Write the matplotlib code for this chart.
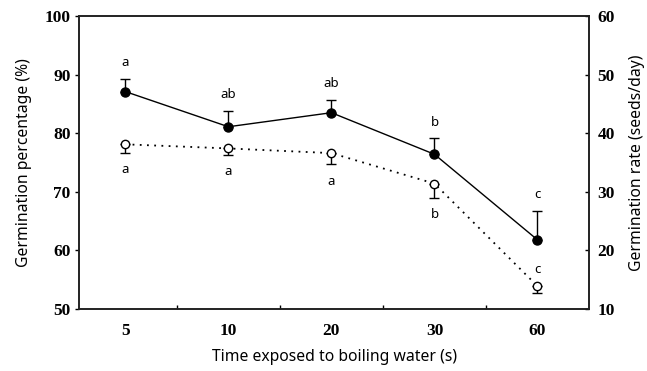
import numpy as np
import matplotlib.pyplot as plt

# Dados
tempos = ["5", "10", "20", "30", "60"]
germ_pct = [87.1, 81.1, 83.5, 76.4, 61.8]
germ_pct_err = [2.2, 2.7, 2.2, 2.7, 4.9]
germ_rate = [38.1, 37.4, 36.6, 31.4, 13.9]
germ_rate_err = [1.4, 1.1, 1.9, 2.4, 1.1]
letras_pct = ["a", "ab", "ab", "b", "c"]
letras_rate = ["a", "a", "a", "b", "c"]

x = np.arange(len(tempos))

fig = plt.figure(figsize=(6.47, 3.71), dpi=100)
ax = fig.add_axes([79 / 647, 1 - 309 / 371, 510 / 647, 293 / 371])
ax2 = ax.twinx()

# Porcentagem de germinação (eixo esquerdo), barras só para cima
ax.errorbar(x, germ_pct, yerr=[np.zeros(len(x)), germ_pct_err], color="black",
            marker="o", ms=6.5, lw=1.0, elinewidth=1.0, capsize=3.5, capthick=1.0,
            zorder=3)

# Taxa de germinação (eixo direito), barras só para baixo
ax2.errorbar(x, germ_rate, yerr=[germ_rate_err, np.zeros(len(x))], color="black",
             marker="o", mfc="white", ms=6, lw=1.3, ls=(0, (1, 3)),
             elinewidth=1.0, capsize=3.5, capthick=1.0, zorder=3)

fonte_letra = dict(fontsize=9.5, family="Noto Sans", ha="center", va="center")
for i in range(len(x)):
    ax.text(x[i], germ_pct[i] + germ_pct_err[i] + 2.8, letras_pct[i], **fonte_letra)
    if i < len(x) - 1:
        ax2.text(x[i], germ_rate[i] - germ_rate_err[i] - 2.9, letras_rate[i], **fonte_letra)
    else:
        ax2.text(x[i], germ_rate[i] + 2.8, letras_rate[i], **fonte_letra)

ax.set_xlim(-0.45, 4.5)
ax.set_ylim(50, 100)
ax2.set_ylim(10, 60)
ax.set_yticks(np.arange(50, 101, 10))
ax2.set_yticks(np.arange(10, 61, 10))
ax.set_xticks(x)
ax.set_xticklabels(tempos)
ax.set_xticks(x[:-1] + 0.5, minor=True)

for lab in ax.get_xticklabels() + ax.get_yticklabels() + ax2.get_yticklabels():
    lab.set_fontfamily("Liberation Serif")
    lab.set_fontweight("bold")
    lab.set_fontsize(12.5)

ax.tick_params(axis="x", which="major", length=0, pad=10)
ax.tick_params(axis="x", which="minor", direction="in", length=3, width=1)
ax.tick_params(axis="y", direction="out", length=3, width=1, pad=3)
ax2.tick_params(axis="y", direction="in", length=3, width=1, pad=6)

for a in (ax, ax2):
    for s in a.spines.values():
        s.set_linewidth(1.2)
        s.set_color("#222222")

ax.set_xlabel("Time exposed to boiling water (s)", family="Noto Sans", fontsize=11.3, labelpad=7)
ax.set_ylabel("Germination percentage (%)", family="Noto Sans", fontsize=11.3, labelpad=9)
ax2.set_ylabel("Germination rate (seeds/day)", family="Noto Sans", fontsize=11.3, labelpad=10)

plt.savefig("out.png", dpi=100)
plt.close()
